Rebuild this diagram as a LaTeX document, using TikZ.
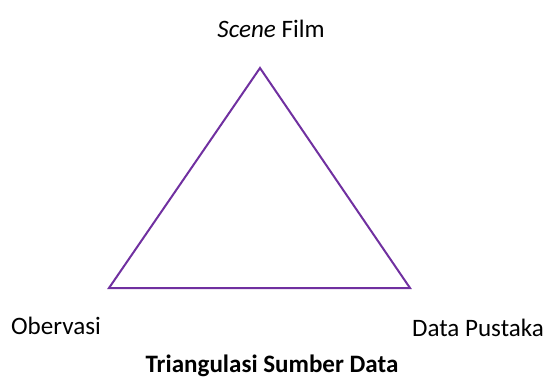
\documentclass[tikz,border=0pt]{standalone}
\usepackage{fontspec}
\setmainfont{Carlito}
\definecolor{tripurple}{HTML}{7030A0}
\begin{document}
\begin{tikzpicture}[x=0.75pt,y=-0.75pt,
  lbl/.style={font=\fontsize{18.8}{22}\selectfont, text=black, inner sep=0pt, anchor=center},
  edge/.style={draw=tripurple, line width=1.5pt, line join=miter}]
\useasboundingbox (0,0) rectangle (543,383);
\coordinate (top) at (260,68);
\coordinate (bl) at (109,288);
\coordinate (br) at (410,288);
\draw[edge] (top) -- (br) -- (bl) -- cycle;
\node[lbl] (scene) at (271,29) {\textit{Scene} Film};
\node[lbl] (obs) at (56,326) {Obervasi};
\node[lbl] (pus) at (478,328) {Data Pustaka};
\node[lbl, font=\fontsize{18.8}{22}\selectfont\bfseries] (title) at (272,366) {Triangulasi Sumber Data};
\end{tikzpicture}
\end{document}
